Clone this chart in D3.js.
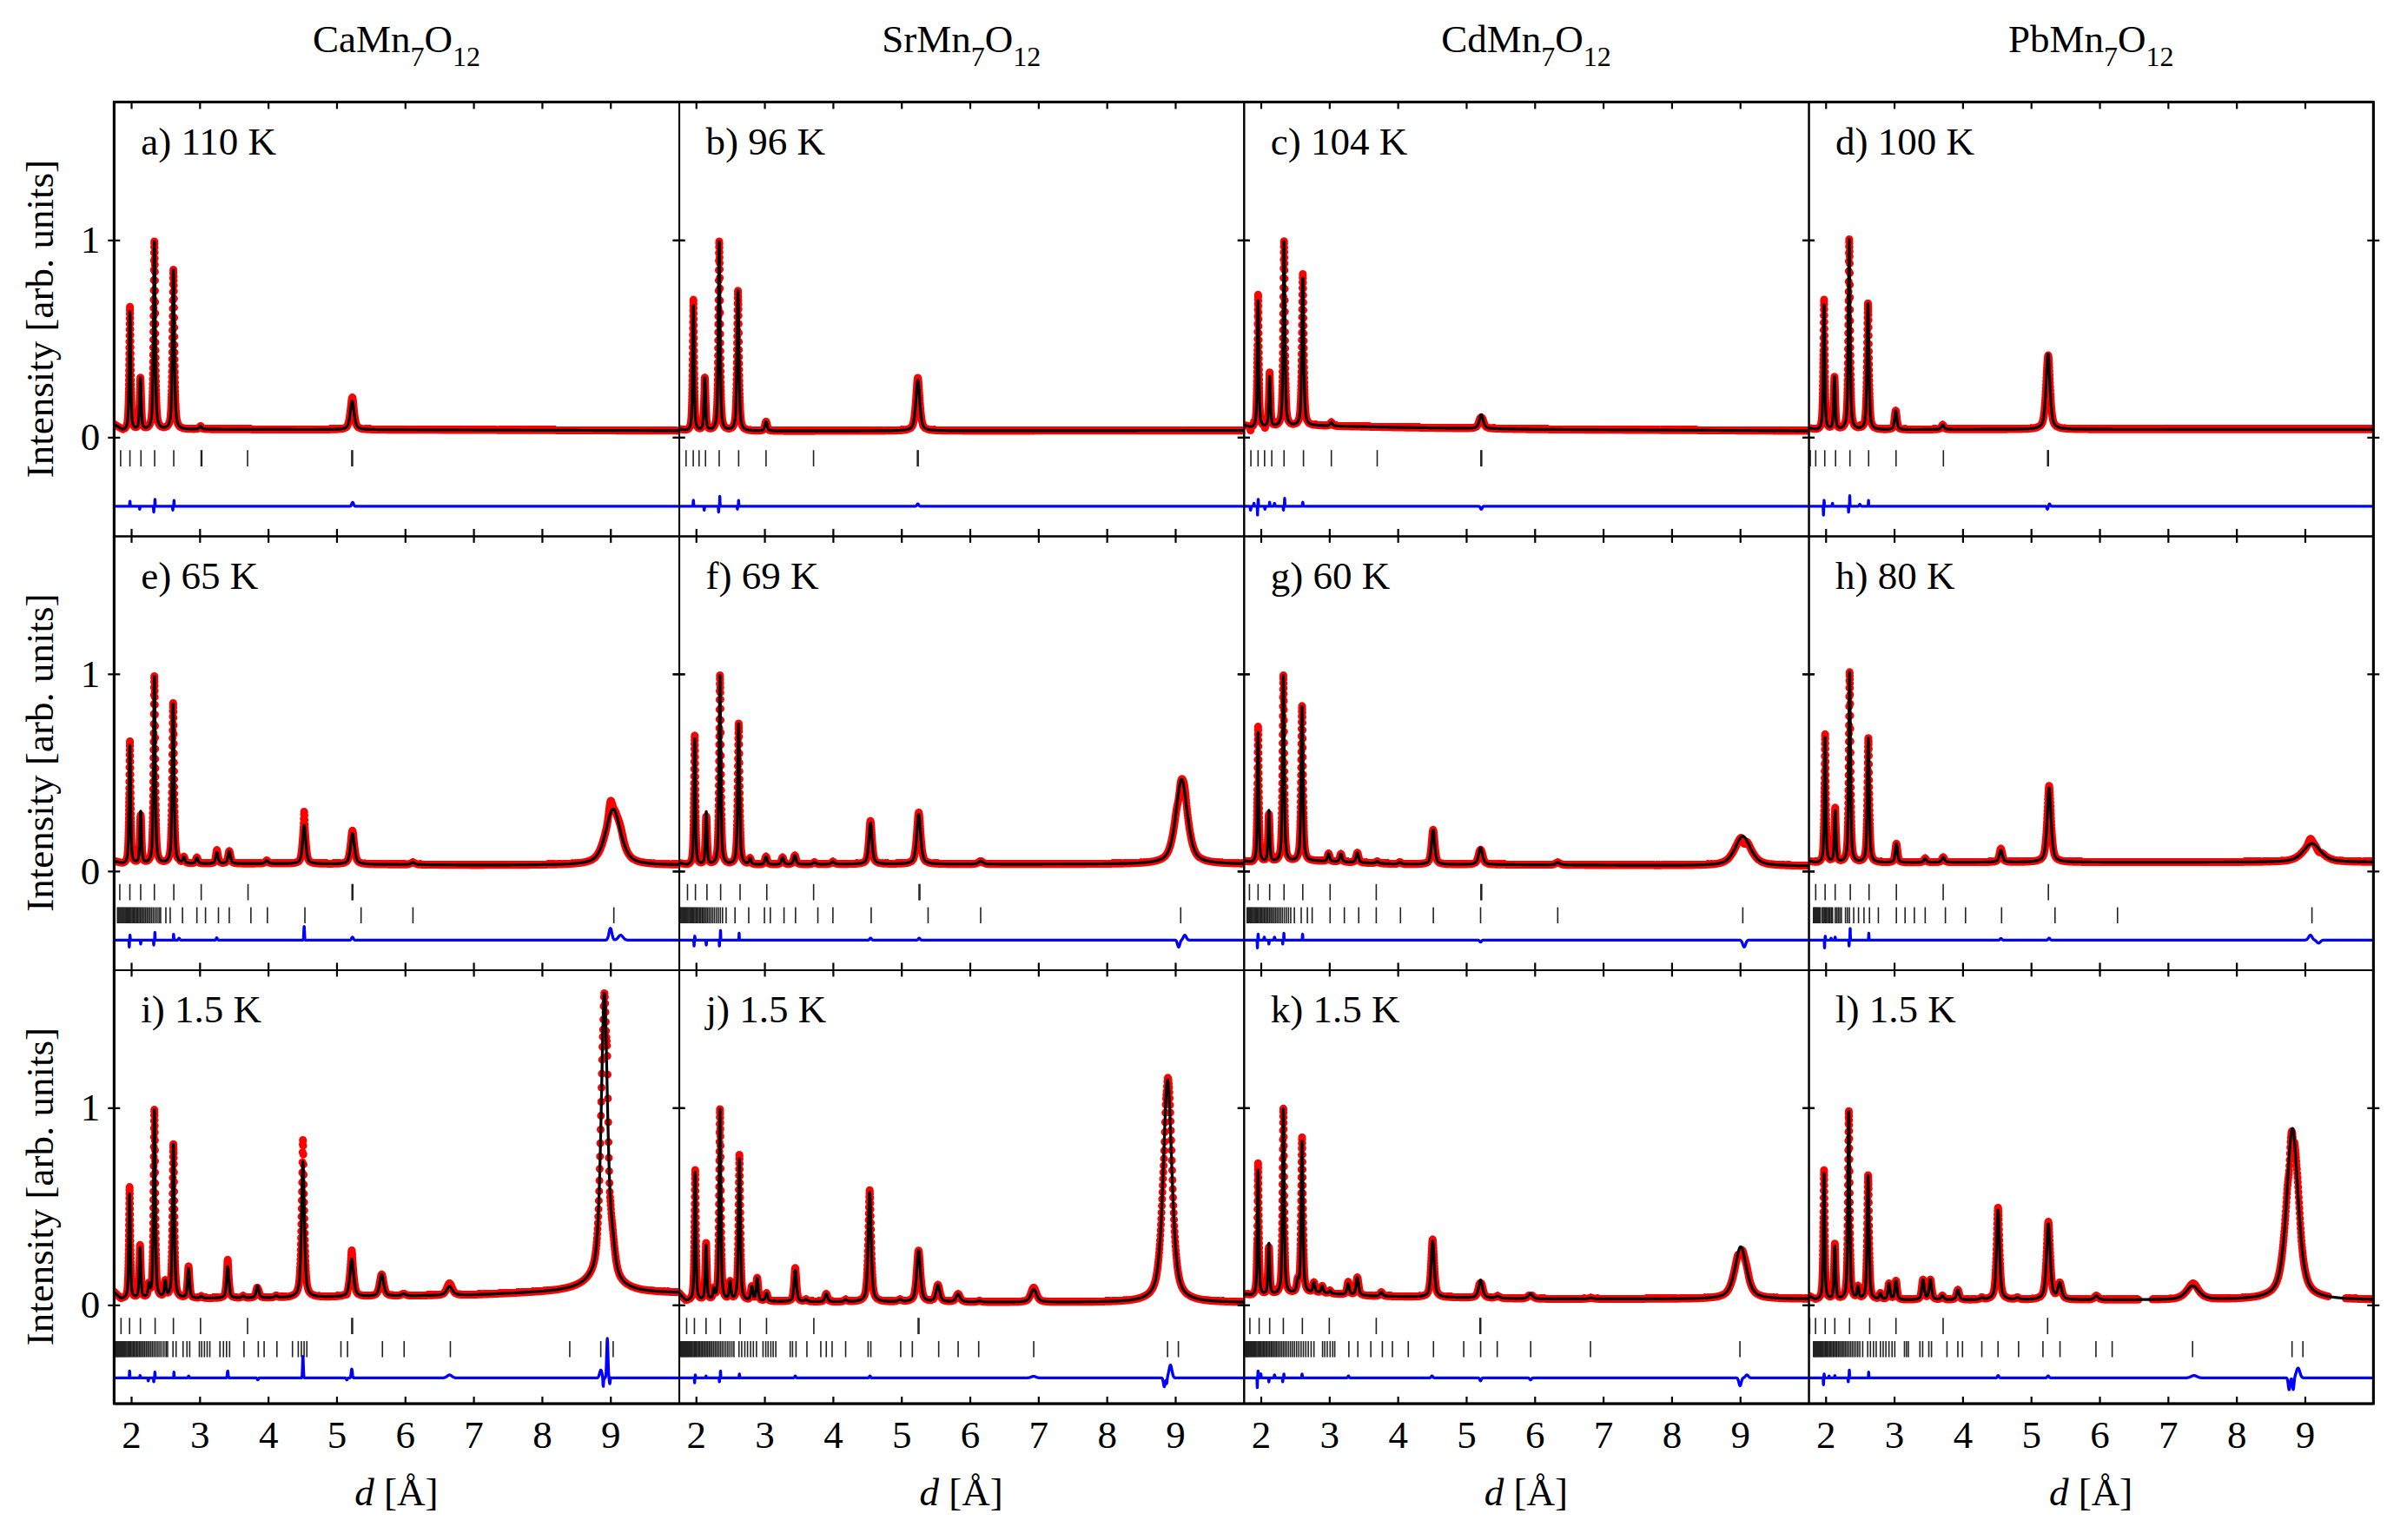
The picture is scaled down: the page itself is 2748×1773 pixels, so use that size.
<!DOCTYPE html>
<html><head><meta charset="utf-8">
<script src="https://cdn.jsdelivr.net/npm/d3@7"></script>
<style>
body{margin:0;background:#fff}
svg{display:block}
text{font-family:"Liberation Serif","Times New Roman",serif;fill:#000}
</style>
</head><body>
<svg id="chart" width="2748" height="1773"></svg>
<script>
// ---------------- DATA ----------------
const xDomain = [1.75, 10];
const yDomain = [-0.5, 1.7];
const xTickValues = [2, 3, 4, 5, 6, 7, 8, 9];
const yTickValues = [0, 1];
const metals = ["Ca", "Sr", "Cd", "Pb"];
const panelLabels = ["a) 110 K","b) 96 K","c) 104 K","d) 100 K","e) 65 K","f) 69 K","g) 60 K","h) 80 K","i) 1.5 K","j) 1.5 K","k) 1.5 K","l) 1.5 K"];

// background knots [d, intensity]
const backgrounds = [
  [[1.75,0.065],[1.88,0.033],[3.0,0.04],[6.0,0.038],[10,0.033]],
  [[1.75,0.04],[1.88,0.03],[4,0.032],[10,0.034]],
  [[1.75,0.06],[1.88,0.045],[2.8,0.058],[4,0.05],[6,0.04],[10,0.032]],
  [[1.75,0.045],[1.88,0.035],[4,0.04],[10,0.04]],
  [[1.75,0.05],[1.88,0.035],[4,0.038],[7,0.03],[10,0.03]],
  [[1.75,0.04],[1.88,0.028],[4,0.035],[10,0.035]],
  [[1.75,0.05],[1.88,0.04],[2.8,0.05],[4,0.035],[10,0.025]],
  [[1.75,0.05],[1.88,0.04],[4,0.045],[10,0.045]],
  [[1.75,0.065],[1.85,0.03],[4,0.035],[7,0.05],[8.3,0.067],[10,0.06]],
  [[1.75,0.06],[1.85,0.02],[4,0.015],[10,0.012]],
  [[1.75,0.055],[1.88,0.045],[2.8,0.06],[3.6,0.045],[6,0.03],[10,0.03]],
  [[1.75,0.045],[1.85,0.025],[10,0.025]]
];

// Bragg peaks of the calculated profile [d, height, FWHM]
const peaks = [
  [[1.982,0.6,0.026],[2.135,0.262,0.028],[2.339,0.955,0.03],[2.617,0.81,0.033],[3.013,0.015,0.04],[5.228,0.145,0.068]],
  [[1.962,0.635,0.026],[2.129,0.267,0.028],[2.339,0.96,0.03],[2.613,0.71,0.033],[3.023,0.047,0.04],[5.24,0.257,0.068]],
  [[1.96,0.645,0.026],[2.129,0.255,0.028],[2.339,0.94,0.03],[2.613,0.75,0.033],[3.03,0.018,0.04],[5.22,0.071,0.068]],
  [[1.976,0.635,0.026],[2.129,0.265,0.028],[2.344,0.965,0.03],[2.618,0.64,0.033],[3.023,0.096,0.04],[3.71,0.023,0.048],[5.248,0.382,0.068]],
  [[1.981,0.6,0.026],[2.139,0.262,0.028],[2.339,0.95,0.03],[2.613,0.81,0.033],[2.77,0.03,0.035],[2.96,0.03,0.038],[3.254,0.057,0.042],[3.433,0.063,0.044],[3.98,0.015,0.05],[4.527,0.195,0.055],[5.232,0.155,0.068],[6.116,0.01,0.075],[9.04,0.285,0.26]],
  [[1.981,0.64,0.026],[2.15,0.267,0.028],[2.35,0.96,0.03],[2.623,0.715,0.033],[2.79,0.03,0.035],[3.023,0.04,0.04],[3.265,0.035,0.042],[3.444,0.045,0.044],[3.73,0.01,0.048],[4.0,0.012,0.05],[4.548,0.209,0.055],[5.253,0.253,0.068],[6.158,0.015,0.075],[9.093,0.43,0.2]],
  [[1.96,0.66,0.026],[2.118,0.26,0.028],[2.329,0.945,0.03],[2.602,0.785,0.033],[2.99,0.04,0.038],[3.17,0.04,0.04],[3.41,0.05,0.043],[3.70,0.01,0.048],[4.03,0.01,0.05],[4.517,0.175,0.055],[5.21,0.085,0.068],[6.337,0.012,0.075],[9.04,0.15,0.27]],
  [[1.992,0.635,0.026],[2.139,0.26,0.028],[2.35,0.965,0.03],[2.623,0.63,0.033],[3.033,0.095,0.04],[3.454,0.02,0.044],[3.717,0.025,0.048],[4.559,0.06,0.055],[5.264,0.377,0.068],[9.103,0.095,0.3]],
  [[1.977,0.53,0.026],[2.13,0.255,0.028],[2.26,0.06,0.028],[2.339,0.955,0.03],[2.498,0.08,0.032],[2.617,0.78,0.033],[2.838,0.15,0.035],[3.025,0.01,0.038],[3.41,0.16,0.042],[3.636,0.01,0.045],[3.846,0.06,0.046],[4.118,0.01,0.05],[4.509,0.69,0.05],[5.222,0.19,0.065],[5.659,0.11,0.07],[5.98,0.01,0.07],[6.65,0.045,0.1],[8.85,0.05,0.6],[8.912,1.46,0.11],[9.03,0.12,0.09]],
  [[1.988,0.65,0.026],[2.147,0.278,0.028],[2.26,0.05,0.028],[2.35,0.97,0.03],[2.498,0.09,0.032],[2.634,0.72,0.033],[2.815,0.07,0.035],[2.894,0.115,0.035],[3.03,0.04,0.038],[3.45,0.16,0.042],[3.608,0.01,0.045],[3.903,0.04,0.046],[4.186,0.01,0.05],[4.537,0.557,0.05],[4.979,0.01,0.06],[5.251,0.26,0.065],[5.534,0.085,0.065],[5.829,0.04,0.07],[6.14,0.005,0.07],[6.933,0.065,0.1],[8.888,1.13,0.15]],
  [[1.96,0.635,0.026],[2.118,0.258,0.028],[2.329,0.94,0.03],[2.539,0.05,0.032],[2.602,0.77,0.033],[2.776,0.05,0.035],[2.897,0.035,0.036],[3.01,0.015,0.038],[3.275,0.055,0.042],[3.41,0.09,0.044],[3.76,0.02,0.048],[4.51,0.285,0.055],[5.21,0.09,0.068],[5.46,0.01,0.07],[5.94,0.025,0.08],[6.82,0.005,0.09],[9.01,0.265,0.2]],
  [[1.976,0.64,0.026],[2.134,0.268,0.028],[2.338,0.955,0.03],[2.473,0.06,0.032],[2.62,0.63,0.033],[2.8,0.03,0.035],[2.925,0.08,0.036],[3.027,0.095,0.038],[3.422,0.1,0.043],[3.53,0.1,0.044],[3.705,0.02,0.046],[3.931,0.05,0.048],[4.281,0.01,0.05],[4.518,0.456,0.052],[4.801,0.01,0.055],[5.253,0.385,0.065],[5.42,0.08,0.065],[5.954,0.02,0.07],[7.36,0.07,0.22],[8.818,0.87,0.2]]
];

// residual features (observed - calculated) [d, amplitude, width]
const residuals = [
  [[1.982,0.025,0.008],[2.125,-0.015,0.008],[2.33,-0.03,0.006],[2.348,0.035,0.006],[2.608,-0.02,0.006],[2.626,0.03,0.006],[5.235,0.02,0.03]],
  [[1.962,0.03,0.008],[2.12,-0.02,0.008],[2.33,-0.03,0.006],[2.348,0.05,0.006],[2.605,-0.015,0.006],[2.622,0.03,0.006],[5.24,0.012,0.03]],
  [[1.85,-0.02,0.012],[1.9,0.015,0.01],[1.952,-0.045,0.006],[1.962,0.035,0.007],[2.06,-0.015,0.01],[2.129,0.02,0.008],[2.2,0.015,0.012],[2.33,-0.02,0.006],[2.348,0.04,0.006],[2.613,0.02,0.01],[5.22,-0.015,0.03]],
  [[1.968,-0.045,0.006],[1.978,0.03,0.007],[2.1,0.015,0.01],[2.335,-0.03,0.006],[2.352,0.055,0.006],[2.5,0.01,0.02],[2.626,0.03,0.006],[5.24,-0.015,0.02],[5.27,0.012,0.025]],
  [[1.972,-0.035,0.006],[1.983,0.025,0.007],[2.139,-0.02,0.008],[2.33,-0.025,0.006],[2.347,0.04,0.006],[2.62,0.03,0.008],[2.7,0.01,0.02],[3.25,0.012,0.02],[4.527,0.07,0.012],[5.232,0.015,0.03],[9.0,0.06,0.05],[9.15,0.025,0.08]],
  [[1.972,-0.03,0.006],[1.983,0.02,0.007],[2.15,-0.025,0.008],[2.342,-0.03,0.006],[2.358,0.05,0.006],[2.63,0.035,0.006],[4.55,0.01,0.03],[5.26,0.01,0.03],[9.05,-0.035,0.04],[9.14,0.025,0.05]],
  [[1.95,-0.04,0.006],[1.961,0.03,0.007],[2.05,0.015,0.01],[2.118,-0.02,0.008],[2.2,0.015,0.012],[2.32,-0.02,0.006],[2.337,0.035,0.006],[2.61,0.03,0.008],[5.21,-0.01,0.03],[9.06,-0.035,0.05]],
  [[1.984,-0.04,0.006],[1.994,0.02,0.007],[2.08,0.01,0.01],[2.139,0.015,0.008],[2.342,-0.03,0.006],[2.358,0.06,0.006],[2.63,0.035,0.006],[4.56,0.008,0.03],[5.264,0.01,0.03],[9.08,0.025,0.06],[9.2,-0.015,0.06]],
  [[1.977,0.035,0.008],[2.13,0.012,0.01],[2.25,-0.015,0.01],[2.33,-0.02,0.006],[2.347,0.03,0.006],[2.625,0.03,0.006],[2.84,0.01,0.015],[3.41,0.035,0.015],[3.85,-0.01,0.02],[4.509,0.11,0.014],[5.15,-0.01,0.02],[5.222,0.045,0.02],[6.65,0.015,0.08],[8.86,0.04,0.04],[8.895,-0.05,0.012],[8.955,0.2,0.022],[8.99,-0.03,0.015]],
  [[1.98,-0.025,0.006],[1.99,0.015,0.007],[2.147,0.01,0.01],[2.342,-0.02,0.006],[2.358,0.035,0.006],[2.634,0.02,0.008],[3.45,0.01,0.02],[4.54,0.01,0.02],[6.93,0.008,0.08],[8.84,-0.045,0.03],[8.875,-0.03,0.015],[8.93,0.065,0.05]],
  [[1.948,-0.05,0.006],[1.96,0.035,0.008],[2.0,0.02,0.01],[2.118,-0.02,0.008],[2.2,0.015,0.012],[2.32,-0.02,0.006],[2.337,0.02,0.006],[2.602,0.02,0.01],[3.28,0.01,0.02],[4.5,0.01,0.03],[5.21,-0.015,0.025],[5.94,-0.01,0.03],[9.0,-0.04,0.04],[9.1,0.015,0.05]],
  [[1.968,-0.035,0.006],[1.978,0.02,0.007],[2.05,0.01,0.01],[2.134,0.012,0.008],[2.33,-0.02,0.006],[2.346,0.04,0.006],[2.628,0.03,0.006],[4.52,0.012,0.025],[5.25,0.01,0.03],[7.38,0.012,0.1],[8.77,-0.06,0.03],[8.83,-0.06,0.025],[8.9,0.05,0.06]]
];

// nuclear reflection markers
const nuclearTicks = [
  [1.846,1.982,2.143,2.343,2.622,3.022,3.032,3.700,5.222,5.234],
  [1.855,1.960,2.045,2.139,2.339,2.623,3.023,3.717,5.234,5.246],
  [1.855,1.960,2.055,2.160,2.339,2.623,3.030,3.700,5.214,5.226],
  [1.776,1.855,1.987,2.145,2.355,2.628,3.028,3.720,5.242,5.254],
  [1.834,1.981,2.139,2.339,2.623,3.023,3.707,5.226,5.238],
  [1.876,1.992,2.160,2.360,2.644,3.034,3.718,5.258,5.270],
  [1.834,1.960,2.129,2.339,2.613,3.012,3.686,5.214,5.226],
  [1.855,1.992,2.139,2.360,2.634,3.033,3.717,5.253],
  [1.852,1.977,2.135,2.350,2.617,3.013,3.700,5.222,5.234],
  [1.863,1.977,2.147,2.356,2.645,3.030,3.721,5.245,5.257],
  [1.840,1.976,2.129,2.329,2.607,3.000,3.686,5.200,5.212],
  [1.767,1.852,1.993,2.134,2.349,2.643,3.027,3.716,5.242]
];

// magnetic reflection markers (rows 2 and 3)
const magneticTicks = [
  null, null, null, null,
  [1.800,1.811,1.823,1.836,1.848,1.861,1.874,1.886,1.899,1.913,1.927,1.941,1.955,1.969,1.984,1.999,2.014,2.030,2.046,2.062,2.079,2.096,2.114,2.132,2.151,2.170,2.190,2.211,2.232,2.254,2.277,2.301,2.326,2.352,2.379,2.407,2.430,2.507,2.570,2.750,2.960,3.086,3.275,3.433,3.749,3.990,4.538,5.358,6.116,9.050],
  [1.770,1.781,1.793,1.805,1.817,1.829,1.842,1.855,1.868,1.881,1.895,1.909,1.923,1.938,1.953,1.968,1.984,2.000,2.017,2.034,2.052,2.070,2.089,2.108,2.128,2.149,2.171,2.194,2.218,2.243,2.269,2.297,2.326,2.356,2.388,2.440,2.570,2.770,3.000,3.086,3.286,3.454,3.780,4.000,4.559,5.390,6.158,9.080],
  [1.800,1.812,1.825,1.838,1.851,1.864,1.878,1.892,1.906,1.920,1.935,1.950,1.966,1.982,1.998,2.015,2.032,2.050,2.068,2.087,2.106,2.126,2.146,2.167,2.189,2.212,2.236,2.261,2.287,2.314,2.343,2.373,2.404,2.437,2.490,2.590,2.680,2.750,3.012,3.220,3.430,3.686,4.040,4.520,5.210,6.337,9.040],
  [1.823,1.835,1.846,1.858,1.870,1.883,1.896,1.909,1.922,1.950,1.965,1.980,1.996,2.012,2.029,2.046,2.064,2.082,2.101,2.140,2.161,2.183,2.206,2.230,2.290,2.318,2.347,2.410,2.480,2.560,2.640,2.770,3.033,3.160,3.296,3.454,3.749,4.043,4.570,5.350,6.263,9.103],
  [1.761,1.772,1.783,1.795,1.806,1.818,1.830,1.842,1.855,1.868,1.881,1.894,1.908,1.922,1.936,1.951,1.966,1.981,1.997,2.013,2.030,2.047,2.064,2.082,2.100,2.119,2.138,2.158,2.178,2.199,2.221,2.243,2.266,2.290,2.314,2.339,2.365,2.392,2.420,2.449,2.479,2.510,2.532,2.611,2.656,2.758,2.815,2.855,2.996,3.030,3.070,3.110,3.149,3.297,3.348,3.393,3.438,3.648,3.857,3.942,4.129,4.356,4.441,4.486,4.526,4.566,5.064,5.160,5.670,5.987,6.662,8.406,8.859,9.040],
  [1.778,1.789,1.800,1.812,1.824,1.836,1.848,1.861,1.874,1.887,1.901,1.915,1.929,1.944,1.959,1.974,1.990,2.006,2.022,2.039,2.056,2.074,2.092,2.111,2.130,2.150,2.170,2.191,2.212,2.234,2.257,2.280,2.304,2.329,2.355,2.381,2.408,2.436,2.465,2.495,2.525,2.554,2.628,2.668,2.713,2.753,2.798,2.838,2.883,2.979,3.019,3.053,3.093,3.127,3.166,3.376,3.410,3.461,3.620,3.823,3.903,3.988,4.186,4.514,4.554,4.990,5.160,5.545,5.829,6.129,6.933,8.888,9.046],
  [1.776,1.787,1.798,1.810,1.822,1.834,1.846,1.859,1.872,1.885,1.899,1.913,1.927,1.942,1.957,1.972,1.988,2.004,2.020,2.037,2.054,2.072,2.090,2.109,2.128,2.148,2.168,2.189,2.210,2.232,2.255,2.278,2.302,2.327,2.352,2.378,2.405,2.433,2.462,2.492,2.523,2.555,2.588,2.622,2.657,2.693,2.735,2.776,2.902,2.934,2.970,3.012,3.050,3.080,3.286,3.417,3.607,3.775,3.922,4.154,4.522,4.964,5.211,5.453,5.942,6.815,8.998],
  [1.823,1.834,1.846,1.858,1.870,1.882,1.895,1.908,1.921,1.935,1.949,1.963,1.978,1.993,2.008,2.024,2.040,2.057,2.074,2.091,2.109,2.127,2.146,2.165,2.185,2.205,2.226,2.247,2.269,2.292,2.315,2.339,2.364,2.389,2.415,2.442,2.470,2.499,2.541,2.614,2.654,2.699,2.738,2.800,2.840,2.880,2.925,2.970,3.010,3.151,3.180,3.208,3.377,3.417,3.507,3.546,3.772,3.931,3.999,4.281,4.518,4.818,5.174,5.423,5.948,6.185,7.360,8.812,8.971]
];

const diffOffsets = [-0.35,-0.35,-0.35,-0.35,-0.35,-0.35,-0.35,-0.35,-0.37,-0.37,-0.37,-0.37];
const dataGaps = [[],[],[],[],[],[],[],[],[],[],[],[[6.57,6.77],[9.34,9.59]]];

// ---------------- LAYOUT ----------------
const PL = 131.3, PT = 117.4, PW = 650.25, PH = 499.5;
const ETA = 0.6, STEP = 1.0005;
const svg = d3.select("#chart");
const defs = svg.append("defs");

function bgAt(knots, d) {
  if (d <= knots[0][0]) return knots[0][1];
  for (let i = 1; i < knots.length; i++) {
    if (d <= knots[i][0]) {
      const [a, va] = knots[i-1], [b, vb] = knots[i];
      return va + (vb - va) * (d - a) / (b - a);
    }
  }
  return knots[knots.length-1][1];
}
function pv(dx, f) {
  const t = dx / f;
  return ETA / (1 + 4*t*t) + (1 - ETA) * Math.exp(-4*Math.LN2*t*t);
}
function gauss(dx, w) { const t = dx / w; return Math.exp(-4*Math.LN2*t*t); }

for (let p = 0; p < 12; p++) {
  const col = p % 4, row = Math.floor(p / 4);
  const x0 = PL + col * PW, y0 = PT + row * PH;
  const x = d3.scaleLinear().domain(xDomain).range([x0, x0 + PW]);
  const y = d3.scaleLinear().domain(yDomain).range([y0 + PH, y0]);

  defs.append("clipPath").attr("id", "clip" + p)
    .append("rect").attr("x", x0).attr("y", y0).attr("width", PW).attr("height", PH);
  const g = svg.append("g").attr("clip-path", `url(#clip${p})`);

  // profile
  const pts = [];
  for (let d = xDomain[0]; d <= xDomain[1] + 1e-9; d *= STEP) {
    let calc = bgAt(backgrounds[p], d);
    for (const [c, h, f] of peaks[p]) { const dx = d - c; if (Math.abs(dx) < 40*f) calc += h * pv(dx, f); }
    let res = 0;
    for (const [c, a, w] of residuals[p]) { const dx = d - c; if (Math.abs(dx) < 5*w) res += a * gauss(dx, w); }
    const gap = dataGaps[p].some(([a, b]) => d >= a && d <= b);
    pts.push({d, calc, obs: calc + res, diff: diffOffsets[p] + res, gap});
  }

  // observed: red dots
  let dots = "";
  for (const q of pts) if (!q.gap) dots += `M${x(q.d).toFixed(2)},${y(q.obs).toFixed(2)}h0.01`;
  g.append("path").attr("d", dots).attr("fill", "none").attr("stroke", "#ff0000")
    .attr("stroke-width", 9).attr("stroke-linecap", "round");

  // calculated: black line
  g.append("path").datum(pts)
    .attr("d", d3.line().x(q => x(q.d)).y(q => y(q.calc)))
    .attr("fill", "none").attr("stroke", "#000").attr("stroke-width", 3.2).attr("stroke-linejoin", "round");

  // reflection markers
  g.append("g").selectAll("line").data(nuclearTicks[p]).join("line")
    .attr("x1", v => x(v)).attr("x2", v => x(v))
    .attr("y1", y(-0.065)).attr("y2", y(-0.148))
    .attr("stroke", "#222").attr("stroke-width", 1.6);
  if (magneticTicks[p]) {
    g.append("g").selectAll("line").data(magneticTicks[p]).join("line")
      .attr("x1", v => x(v)).attr("x2", v => x(v))
      .attr("y1", y(-0.183)).attr("y2", y(-0.265))
      .attr("stroke", "#222").attr("stroke-width", 1.6);
  }

  // difference: blue line
  g.append("path").datum(pts)
    .attr("d", d3.line().x(q => x(q.d)).y(q => y(q.diff)))
    .attr("fill", "none").attr("stroke", "#0000ff").attr("stroke-width", 3.3).attr("stroke-linejoin", "round");

  // axes
  const fmt = d3.format("d");
  const styleAxis = sel => {
    sel.attr("font-size", 45).attr("font-family", "Liberation Serif, Times New Roman, serif");
    sel.selectAll(".domain").attr("stroke-width", 2);
    sel.selectAll(".tick line").attr("stroke-width", 2.2);
  };
  svg.append("g").attr("transform", `translate(0,${y0 + PH})`)
    .call(d3.axisBottom(x).tickValues(xTickValues).tickSizeInner(-8).tickSizeOuter(0).tickPadding(19)
      .tickFormat(row === 2 ? fmt : () => ""))
    .call(styleAxis);
  svg.append("g").attr("transform", `translate(0,${y0})`)
    .call(d3.axisTop(x).tickValues(xTickValues).tickSizeInner(-8).tickSizeOuter(0).tickFormat(() => ""))
    .call(styleAxis);
  svg.append("g").attr("transform", `translate(${x0},0)`)
    .call(d3.axisLeft(y).tickValues(yTickValues).tickSizeInner(7).tickSizeOuter(0).tickPadding(9)
      .tickFormat(col === 0 ? fmt : () => ""))
    .call(styleAxis);
  svg.append("g").attr("transform", `translate(${x0},0)`)
    .call(d3.axisLeft(y).tickValues(yTickValues).tickSizeInner(-7).tickSizeOuter(0).tickFormat(() => ""))
    .call(styleAxis).call(s => s.select(".domain").remove());
  svg.append("g").attr("transform", `translate(${x0 + PW},0)`)
    .call(d3.axisRight(y).tickValues(yTickValues).tickSizeInner(7).tickSizeOuter(0).tickFormat(() => ""))
    .call(styleAxis);
  svg.append("g").attr("transform", `translate(${x0 + PW},0)`)
    .call(d3.axisRight(y).tickValues(yTickValues).tickSizeInner(-7).tickSizeOuter(0).tickFormat(() => ""))
    .call(styleAxis).call(s => s.select(".domain").remove());

  // panel label
  svg.append("text").attr("x", x0 + 31).attr("y", y0 + 61).attr("font-size", 45).text(panelLabels[p]);
}

// outer frame
svg.append("rect").attr("x", PL).attr("y", PT).attr("width", 4 * PW).attr("height", 3 * PH)
  .attr("fill", "none").attr("stroke", "#000").attr("stroke-width", 3);

// column titles and x-axis labels
metals.forEach((m, c) => {
  const cx = PL + c * PW + PW / 2;
  const t = svg.append("text").attr("x", cx).attr("y", 60).attr("text-anchor", "middle").attr("font-size", 45);
  t.append("tspan").text(m + "Mn");
  t.append("tspan").attr("font-size", 32).attr("dy", 16).text("7");
  t.append("tspan").attr("dy", -16).text("O");
  t.append("tspan").attr("font-size", 32).attr("dy", 16).text("12");

  const xl = svg.append("text").attr("x", cx).attr("y", 1733).attr("text-anchor", "middle").attr("font-size", 45);
  xl.append("tspan").attr("font-style", "italic").text("d");
  xl.append("tspan").text(" [Å]");
});

// y-axis labels
for (let r = 0; r < 3; r++) {
  const cy = PT + r * PH + PH / 2;
  svg.append("text").attr("transform", `translate(61,${cy}) rotate(-90)`)
    .attr("text-anchor", "middle").attr("font-size", 45).text("Intensity [arb. units]");
}
</script>
</body></html>
